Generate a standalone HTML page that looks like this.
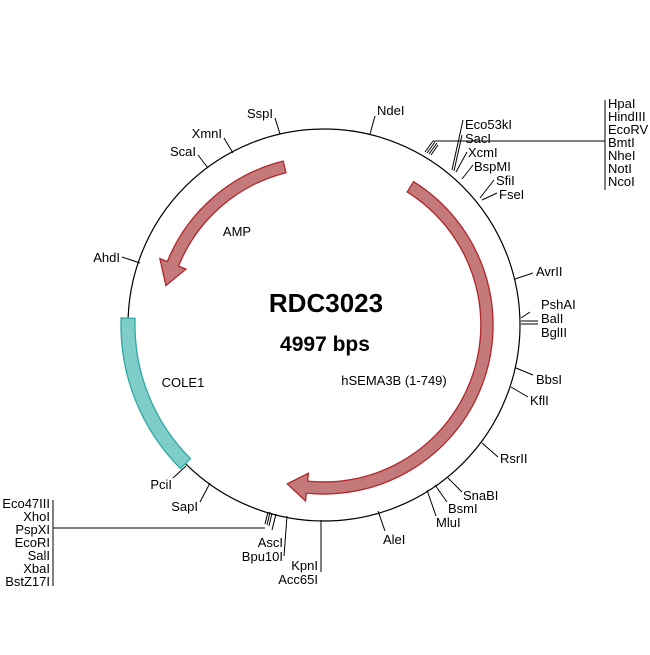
<!DOCTYPE html>
<html><head><style>body{margin:0;background:#fff}</style></head><body>
<svg width="650" height="650" xmlns="http://www.w3.org/2000/svg" font-family="Liberation Sans, sans-serif" font-size="13">
<rect width="650" height="650" fill="#fff"/>
<circle cx="324" cy="325" r="196" fill="none" stroke="#000" stroke-width="1.2"/>
<g transform="translate(-1,2)">
<path d="M414.6,179.7 A169,169 0 0 1 307.3,491.1 L306.5,499 L288.3,481.8 L309.4,471.2 L308.6,479.1 A157,157 0 0 0 408.2,189.9 Z" fill="#c47a7a" stroke="#b0262a" stroke-width="1.3"/>
<path d="M284.1,159.1 A169,169 0 0 0 168.3,259.6 L160.9,256.6 L166.9,283.6 L186.9,267.1 L179.5,264.1 A157,157 0 0 1 287,170.7 Z" fill="#c47a7a" stroke="#b0262a" stroke-width="1.3"/>
<path d="M122.1,315.9 A203,203 0 0 0 181.5,466.5 L191.4,456.6 A189,189 0 0 1 136.1,316.4 Z" fill="#7fcdc9" stroke="#2fa8a3" stroke-width="1.3"/>
</g>
<text x="326" y="312" font-size="26" font-weight="bold" text-anchor="middle">RDC3023</text>
<text x="325" y="351" font-size="21" font-weight="bold" text-anchor="middle">4997 bps</text>
<text x="237" y="236" text-anchor="middle">AMP</text>
<text x="183" y="387" text-anchor="middle">COLE1</text>
<text x="394" y="385" text-anchor="middle">hSEMA3B (1-749)</text>
<g stroke="#000" stroke-width="1">
<line x1="280" y1="134" x2="275" y2="118"/>
<line x1="233" y1="153" x2="224" y2="138"/>
<line x1="208" y1="168" x2="198" y2="155"/>
<line x1="140" y1="263" x2="122" y2="257"/>
<line x1="370" y1="134" x2="375" y2="116"/>
<line x1="425" y1="152" x2="433" y2="141"/><line x1="427" y1="153" x2="435" y2="142"/><line x1="429" y1="154" x2="437" y2="143"/><line x1="431" y1="155" x2="438" y2="145"/>
<polyline points="433,141 605,141" fill="none"/>
<line x1="605" y1="100" x2="605" y2="190"/>
<line x1="452" y1="170" x2="463" y2="120"/><line x1="454" y1="171" x2="462" y2="135"/>
<line x1="456" y1="172" x2="467" y2="152"/>
<line x1="462" y1="179" x2="473" y2="165"/>
<line x1="480" y1="198" x2="494" y2="180"/><line x1="482" y1="200" x2="497" y2="193"/>
<line x1="515" y1="279" x2="533" y2="273"/>
<line x1="521" y1="318" x2="530" y2="312"/><line x1="521" y1="321" x2="538" y2="321"/><line x1="521" y1="324" x2="538" y2="324"/>
<line x1="516" y1="368" x2="533" y2="375"/>
<line x1="511" y1="387" x2="528" y2="397"/>
<line x1="482" y1="443" x2="498" y2="457"/>
<line x1="448" y1="478" x2="462" y2="492"/>
<line x1="435" y1="485" x2="447" y2="502"/>
<line x1="427" y1="490" x2="436" y2="516"/>
<line x1="378" y1="511" x2="385" y2="531"/>
<line x1="321" y1="520" x2="321" y2="572"/>
<line x1="287" y1="516" x2="284" y2="556"/>
<line x1="276" y1="514" x2="272" y2="530"/>
<line x1="272" y1="513" x2="269" y2="526"/><line x1="270" y1="512" x2="267" y2="525"/><line x1="268" y1="512" x2="265" y2="524"/>
<polyline points="265,528 53,528" fill="none"/>
<line x1="53" y1="500" x2="53" y2="586"/>
<line x1="210" y1="483" x2="200" y2="502"/>
<line x1="186" y1="466" x2="173" y2="478"/>
</g>
<g text-anchor="end">
<text x="273" y="118">SspI</text>
<text x="222" y="138">XmnI</text>
<text x="196" y="156">ScaI</text>
<text x="120" y="262">AhdI</text>
<text x="318" y="570">KpnI</text>
<text x="318" y="584">Acc65I</text>
<text x="283" y="547">AscI</text>
<text x="283" y="561">Bpu10I</text>
<text x="50" y="508">Eco47III</text>
<text x="50" y="521">XhoI</text>
<text x="50" y="534">PspXI</text>
<text x="50" y="547">EcoRI</text>
<text x="50" y="560">SalI</text>
<text x="50" y="573">XbaI</text>
<text x="50" y="586">BstZ17I</text>
<text x="198" y="511">SapI</text>
<text x="172" y="489">PciI</text>
</g>
<text x="377" y="115">NdeI</text>
<text x="608" y="108">HpaI</text>
<text x="608" y="121">HindIII</text>
<text x="608" y="134">EcoRV</text>
<text x="608" y="147">BmtI</text>
<text x="608" y="160">NheI</text>
<text x="608" y="173">NotI</text>
<text x="608" y="186">NcoI</text>
<text x="465" y="129">Eco53kI</text>
<text x="465" y="143">SacI</text>
<text x="468" y="157">XcmI</text>
<text x="474" y="171">BspMI</text>
<text x="496" y="185">SfiI</text>
<text x="499" y="199">FseI</text>
<text x="536" y="276">AvrII</text>
<text x="541" y="309">PshAI</text>
<text x="541" y="323">BalI</text>
<text x="541" y="337">BglII</text>
<text x="536" y="384">BbsI</text>
<text x="530" y="405">KflI</text>
<text x="500" y="463">RsrII</text>
<text x="463" y="500">SnaBI</text>
<text x="448" y="513">BsmI</text>
<text x="436" y="527">MluI</text>
<text x="383" y="544">AleI</text>
</svg>
</body></html>
